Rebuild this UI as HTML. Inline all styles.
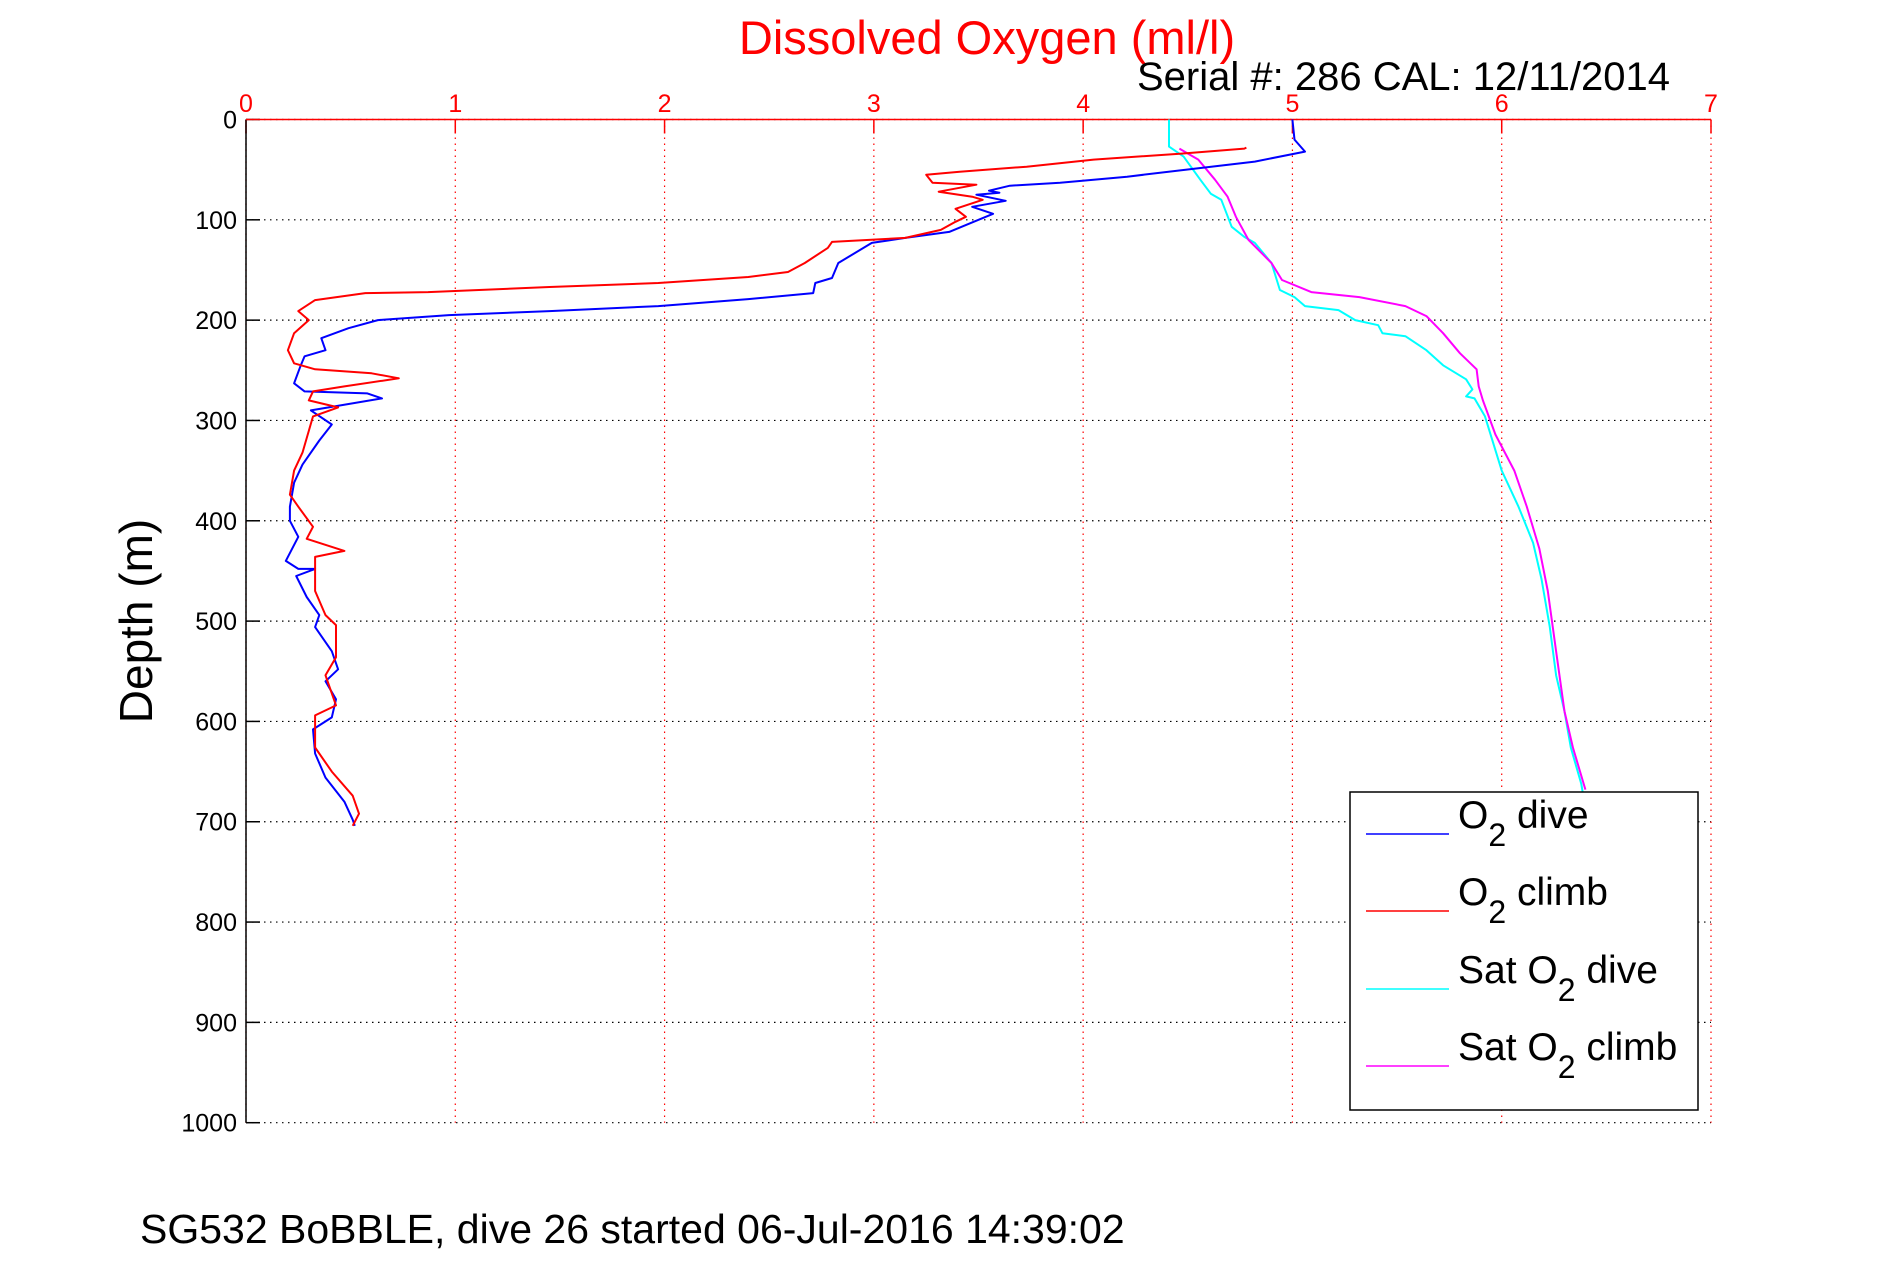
<!DOCTYPE html>
<html><head><meta charset="utf-8"><style>
html,body{margin:0;padding:0;background:#fff}
svg{display:block;font-family:"Liberation Sans",sans-serif}
</style></head><body>
<svg id="chart" width="1891" height="1262" viewBox="0 0 1891 1262" xmlns="http://www.w3.org/2000/svg">
<rect width="1891" height="1262" fill="#fff"/>
<g id="grid"></g>
<g id="axes"></g>
<g id="series"></g>
<text x="987" y="54" font-size="47" fill="#f00" text-anchor="middle">Dissolved Oxygen (ml/l)</text>
<text x="1137" y="90" font-size="40" fill="#000">Serial #: 286  CAL: 12/11/2014</text>
<text transform="translate(152,621) rotate(-90)" font-size="46" text-anchor="middle" fill="#000">Depth (m)</text>
<text x="140" y="1243" font-size="41" fill="#000">SG532 BoBBLE, dive 26 started 06-Jul-2016 14:39:02</text>
<g>
<rect x="1350" y="792" width="348" height="318" fill="#fff" stroke="#000" stroke-width="1.5"/>
<g id="legend-items"></g>
</g>
</svg>
<script>
const xTicks=[0,1,2,3,4,5,6,7];
const yTicks=[0,100,200,300,400,500,600,700,800,900,1000];
const o2DiveX=[5.0,5.01,5.06,4.82,4.53,4.21,3.89,3.65,3.55,3.60,3.49,3.63,3.47,3.57,3.50,3.36,3.15,2.99,2.83,2.80,2.72,2.71,2.40,1.97,1.45,0.97,0.63,0.49,0.36,0.38,0.28,0.26,0.23,0.28,0.58,0.65,0.31,0.41,0.35,0.27,0.23,0.21,0.21,0.25,0.19,0.25,0.33,0.24,0.29,0.35,0.33,0.41,0.44,0.38,0.43,0.41,0.32,0.33,0.38,0.47,0.51,0.52];
const o2DiveD=[0,20,32,42,49,57,63,66,71,73,75,81,87,94,100,112,118,123,143,158,163,173,179,186,191,195,200,208,218,230,236,246,263,271,273,278,290,304,320,344,362,386,400,416,440,448,448,455,476,494,506,530,548,560,578,596,608,632,656,680,698,704];
const o2ClimbX=[4.78,4.77,4.47,4.05,3.73,3.41,3.25,3.28,3.49,3.31,3.47,3.52,3.39,3.44,3.39,3.32,3.15,2.80,2.78,2.67,2.59,2.40,1.97,1.45,0.87,0.57,0.33,0.25,0.30,0.23,0.20,0.23,0.33,0.60,0.73,0.47,0.32,0.30,0.44,0.32,0.27,0.23,0.21,0.25,0.32,0.29,0.47,0.33,0.33,0.38,0.43,0.43,0.38,0.43,0.33,0.33,0.41,0.51,0.54,0.51];
const o2ClimbD=[28,29,34,40,47,52,55,63,65,72,77,80,89,97,102,110,118,122,128,143,152,157,163,167,172,173,180,191,200,213,230,243,249,253,258,266,271,280,287,296,332,350,374,386,406,418,430,436,470,494,504,536,554,584,594,626,650,674,692,704];
const satDiveX=[4.41,4.41,4.48,4.56,4.61,4.66,4.71,4.77,4.82,4.90,4.94,5.01,5.06,5.22,5.30,5.41,5.43,5.54,5.64,5.72,5.83,5.86,5.83,5.87,5.92,6.0,6.08,6.15,6.19,6.23,6.26,6.30,6.33,6.38,6.39];
const satDiveD=[0,27,37,60,74,80,107,117,123,143,170,177,186,190,200,205,213,216,230,245,259,269,276,278,296,350,386,422,458,506,554,590,626,662,674];
const satClimbX=[4.46,4.55,4.63,4.69,4.73,4.79,4.90,4.95,5.09,5.32,5.54,5.64,5.72,5.80,5.88,5.89,5.91,5.97,6.06,6.12,6.18,6.22,6.26,6.30,6.34,6.40];
const satClimbD=[29,40,60,77,97,120,143,160,172,177,186,196,213,233,249,266,280,314,350,386,428,470,530,590,626,668];
const legendLabels=[["O","2"," dive"],["O","2"," climb"],["Sat O","2"," dive"],["Sat O","2"," climb"]];
const legendColors=["#00f","#f00","#0ff","#f0f"];

const X0=246,X1=1711,Y0=119.5,Y1=1122.7;
function sx(v){return X0+(v-0)/(7-0)*(X1-X0);}
function sy(d){return Y0+(d-0)/(1000-0)*(Y1-Y0);}
const NS="http://www.w3.org/2000/svg";
function mk(tag,parent){const e=document.createElementNS(NS,tag);parent.appendChild(e);return e;}
const grid=document.getElementById('grid'),axes=document.getElementById('axes'),series=document.getElementById('series');

yTicks.forEach(t=>{
  const l=mk('line',grid);
  
  
  l.setAttribute('x1',X0);l.setAttribute('x2',X1);l.setAttribute('y1',sy(t));l.setAttribute('y2',sy(t));
  l.setAttribute('stroke','#000');l.setAttribute('stroke-width','1.2');l.setAttribute('stroke-dasharray','1.5 4.5');
  const tk=mk('line',axes);
  
  
  tk.setAttribute('x1',X0);tk.setAttribute('x2',X0+14);tk.setAttribute('y1',sy(t));tk.setAttribute('y2',sy(t));
  tk.setAttribute('stroke','#000');tk.setAttribute('stroke-width','1.5');
  const tx=mk('text',axes);
  
  
  tx.setAttribute('x',237);tx.setAttribute('y',sy(t)+9);tx.setAttribute('font-size','25');tx.setAttribute('text-anchor','end');
  tx.textContent=t;
});
xTicks.forEach(t=>{
  const l=mk('line',grid);
  
  
  l.setAttribute('x1',sx(t));l.setAttribute('x2',sx(t));l.setAttribute('y1',Y0);l.setAttribute('y2',Y1);
  l.setAttribute('stroke','#f00');l.setAttribute('stroke-width','1.2');l.setAttribute('stroke-dasharray','1.5 4.5');
  const tk=mk('line',axes);
  
  
  tk.setAttribute('x1',sx(t));tk.setAttribute('x2',sx(t));tk.setAttribute('y1',Y0);tk.setAttribute('y2',Y0+14);
  tk.setAttribute('stroke','#f00');tk.setAttribute('stroke-width','1.5');
  const tx=mk('text',axes);
  
  
  tx.setAttribute('x',sx(t));tx.setAttribute('y',112);tx.setAttribute('font-size','25');tx.setAttribute('text-anchor','middle');tx.setAttribute('fill','#f00');
  tx.textContent=t;
});
const la=mk('line',axes);


la.setAttribute('x1',X0);la.setAttribute('x2',X0);la.setAttribute('y1',Y0);la.setAttribute('y2',Y1);la.setAttribute('stroke','#000');la.setAttribute('stroke-width','1.5');
const ta=mk('line',axes);


ta.setAttribute('x1',X0);ta.setAttribute('x2',X1);ta.setAttribute('y1',Y0);ta.setAttribute('y2',Y0);ta.setAttribute('stroke','#f00');ta.setAttribute('stroke-width','1.5');

function drawLine(xs,ds,color,name){
  const p=mk('polyline',series);
  
  
  p.setAttribute('points',xs.map((v,i)=>sx(v).toFixed(1)+','+sy(ds[i]).toFixed(1)).join(' '));
  p.setAttribute('fill','none');p.setAttribute('stroke',color);p.setAttribute('stroke-width','2');p.setAttribute('stroke-linejoin','round');
}
drawLine(satDiveX,satDiveD,'#0ff','sat-o2-dive-line');
drawLine(satClimbX,satClimbD,'#f0f','sat-o2-climb-line');
drawLine(o2DiveX,o2DiveD,'#00f','o2-dive-line');
drawLine(o2ClimbX,o2ClimbD,'#f00','o2-climb-line');

const li=document.getElementById('legend-items');
const ly=[834,911,989,1066];
legendLabels.forEach((lab,i)=>{
  const l=mk('line',li);
  
  
  l.setAttribute('x1',1366);l.setAttribute('x2',1449);l.setAttribute('y1',ly[i]);l.setAttribute('y2',ly[i]);
  l.setAttribute('stroke',legendColors[i]);l.setAttribute('stroke-width','1.5');
  const t=mk('text',li);
  
  
  t.setAttribute('x',1458);t.setAttribute('y',ly[i]-6);t.setAttribute('font-size','39');
  const a=mk('tspan',t);a.textContent=lab[0];
  const b=mk('tspan',t);b.textContent=lab[1];b.setAttribute('dy','18');b.setAttribute('font-size','32');
  const c=mk('tspan',t);c.textContent=lab[2];c.setAttribute('dy','-18');
});
</script>
</body></html>
